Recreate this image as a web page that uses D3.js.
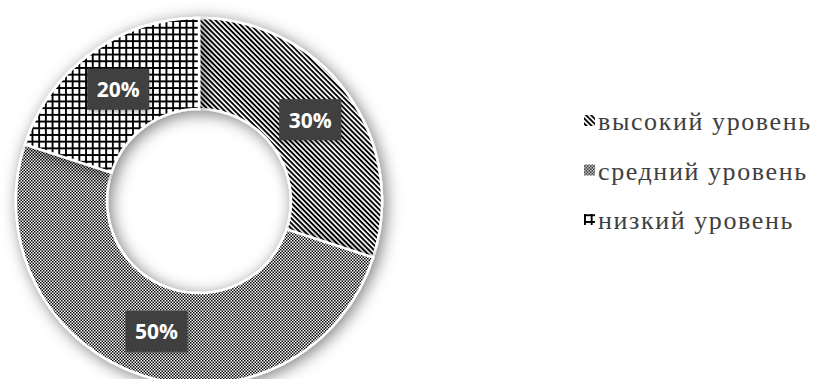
<!DOCTYPE html>
<html>
<head>
<meta charset="utf-8">
<script src="https://cdn.jsdelivr.net/npm/d3@7"></script>
<style>
    body { margin: 0; background: #fff; }
    svg { display: block; }
    .legend text { font-family: "Times New Roman", Times, "Liberation Serif", Tinos, "Noto Serif", "DejaVu Serif", serif; }
</style>
</head>
<body>
<script>
// donut of levels, values in percent
const categories = ["высокий уровень", "средний уровень", "низкий уровень"];
const values = [30, 50, 20];
const patternIds = ["stripes", "checks", "grid"];

const width = 831, height = 379;
const cx = 199, cy = 201,
    outerR = 183, innerR = 92;

const svg = d3.select('body').append('svg')
    .attr('width', width)
    .attr('height', height);

const defs = svg.append('defs');

// diagonal stripes (\)
const stripes = defs.append('pattern')
    .attr('id', 'stripes')
    .attr('patternUnits', 'userSpaceOnUse')
    .attr('width', 3.6).attr('height', 3.6)
    .attr('patternTransform', 'rotate(45)');
stripes.append('rect').attr('width', 3.6).attr('height', 3.6).attr('fill', '#fff');
stripes.append('rect').attr('width', 3.6).attr('height', 1.9).attr('fill', '#000');

// fine checker
const checks = defs.append('pattern')
    .attr('id', 'checks')
    .attr('patternUnits', 'userSpaceOnUse')
    .attr('width', 3).attr('height', 3);
checks.append('rect').attr('width', 3).attr('height', 3).attr('fill', '#fff');
checks.append('rect').attr('width', 1.5).attr('height', 1.5).attr('fill', '#000');
checks.append('rect').attr('x', 1.5).attr('y', 1.5).attr('width', 1.5).attr('height', 1.5).attr('fill', '#000');

// square grid
const grid = defs.append('pattern')
    .attr('id', 'grid')
    .attr('patternUnits', 'userSpaceOnUse')
    .attr('width', 6.7).attr('height', 6.7);
grid.append('rect').attr('width', 6.7).attr('height', 6.7).attr('fill', '#fff');
grid.append('rect').attr('width', 1.9).attr('height', 6.7).attr('fill', '#000');
grid.append('rect').attr('width', 6.7).attr('height', 1.9).attr('fill', '#000');

// soft shadow
const shadow = defs.append('filter')
    .attr('id', 'shadow')
    .attr('x', '-20%').attr('y', '-20%')
    .attr('width', '140%').attr('height', '140%');
shadow.append('feDropShadow')
    .attr('dx', 3).attr('dy', 3)
    .attr('stdDeviation', 8)
    .attr('flood-color', '#000')
    .attr('flood-opacity', 0.5);

const labelShadow = defs.append('filter')
    .attr('id', 'labelShadow')
    .attr('x', '-20%').attr('y', '-20%')
    .attr('width', '140%').attr('height', '140%');
labelShadow.append('feDropShadow')
    .attr('dx', 1).attr('dy', 2)
    .attr('stdDeviation', 2)
    .attr('flood-color', '#000')
    .attr('flood-opacity', 0.3);

const data = categories.map((c, i) => ({ name: c, value: values[i], pattern: patternIds[i] }));

const pie = d3.pie()
    .sort(null)
    .value(d => d.value);

const arc = d3.arc()
    .innerRadius(innerR)
    .outerRadius(outerR);

const labelArc = d3.arc()
    .innerRadius((innerR + outerR) / 2)
    .outerRadius((innerR + outerR) / 2);

const chart = svg.append('g')
    .attr('transform', `translate(${cx}, ${cy})`);

chart.selectAll('path.slice')
    .data(pie(data))
    .enter().append('path')
    .attr('class', 'slice')
    .attr('d', arc)
    .attr('fill', d => `url(#${d.data.pattern})`)
    .attr('stroke', '#fff')
    .attr('stroke-width', 2.5)
    .attr('filter', 'url(#shadow)');

// percent labels in dark boxes
const fmt = d => d3.format(".0%")(d / d3.sum(values));
const labels = chart.selectAll('g.label')
    .data(pie(data))
    .enter().append('g')
    .attr('class', 'label')
    .attr('transform', d => `translate(${labelArc.centroid(d)})`);

labels.append('rect')
    .attr('x', -31).attr('y', -21)
    .attr('width', 62).attr('height', 41)
    .attr('fill', '#404040')
    .attr('filter', 'url(#labelShadow)');

labels.append('text')
    .attr('text-anchor', 'middle')
    .attr('dy', '0.36em')
    .attr('fill', '#fff')
    .style('font-family', '"Open Sans", sans-serif')
    .style('font-weight', 700)
    .style('font-size', '21px')
    .text(d => fmt(d.data.value));

// legend
const legendY = d3.scalePoint()
    .domain(categories)
    .range([122, 221]);

const legend = svg.selectAll('g.legend')
    .data(data)
    .enter().append('g')
    .attr('class', 'legend')
    .attr('transform', d => `translate(584, ${legendY(d.name)})`);

legend.append('rect')
    .attr('x', 0).attr('y', -7)
    .attr('width', 11).attr('height', 11)
    .attr('fill', d => `url(#${d.pattern})`);

legend.append('text')
    .attr('x', 14)
    .attr('dy', '0.32em')
    .attr('fill', '#404040')
    .style('font-size', '26px')
    .style('letter-spacing', '1.6px')
    .text(d => d.name);
</script>
</body>
</html>
